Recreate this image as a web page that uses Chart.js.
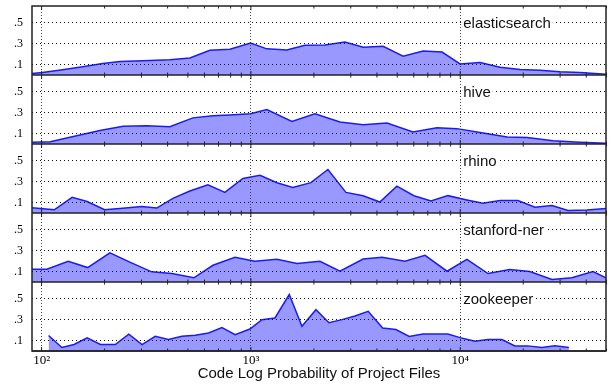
<!DOCTYPE html>
<html>
<head>
<meta charset="utf-8">
<script src="https://cdn.jsdelivr.net/npm/chart.js@4.4.0/dist/chart.umd.min.js"></script>
<style>
  html, body { margin: 0; padding: 0; background: #fff; }
  #wrap { width: 611px; height: 386px; }
</style>
</head>
<body>
<div id="wrap"><canvas id="chart" width="611" height="386"></canvas></div>
<script>
// Panel names, top to bottom.
const panelNames = ['elasticsearch', 'hive', 'rhino', 'stanford-ner', 'zookeeper'];

// Tick values.
const xTickValues = [100, 1000, 10000];
const yTickValues = [0.1, 0.3, 0.5];

// Per-project density curves (x = code log probability, y = fraction).
const esX = [90, 101, 126, 157, 196, 237, 329, 410, 511, 637, 794, 997, 1191, 1485, 1811, 2259, 2813,
  3436, 4280, 5336, 6650, 8190, 9980, 12440, 15500, 19300, 24050, 29970, 37350, 49700];
const esY = [0.015, 0.024, 0.05, 0.08, 0.11, 0.13, 0.138, 0.147, 0.163, 0.236, 0.246, 0.306, 0.25, 0.24, 0.285, 0.287, 0.316,
  0.265, 0.275, 0.18, 0.23, 0.22, 0.106, 0.12, 0.075, 0.052, 0.046, 0.03, 0.024, 0.008];

const hiveX = [90, 110, 147, 190, 245, 318, 410, 528, 658, 794, 997, 1191, 1570, 2023, 2663, 3436,
  4470, 5945, 7740, 9640, 12440, 16750, 20870, 27750, 37350, 49700];
const hiveY = [0.016, 0.022, 0.078, 0.13, 0.17, 0.175, 0.165, 0.25, 0.27, 0.278, 0.29, 0.33, 0.215, 0.29, 0.21, 0.185,
  0.2, 0.115, 0.155, 0.147, 0.11, 0.066, 0.062, 0.03, 0.016, 0.006];

const rhinoX = [90, 115, 140, 165, 200, 244, 301, 355, 424, 511, 623, 751, 916, 1105, 1331, 1585, 1935, 2333,
  2844, 3436, 4130, 4980, 6010, 7250, 8730, 10760, 12830, 15500, 18880, 22760, 27430, 32720, 40340, 49700];
const rhinoY = [0.05, 0.031, 0.15, 0.11, 0.031, 0.045, 0.0625, 0.047, 0.14, 0.21, 0.27, 0.197, 0.33, 0.36, 0.29, 0.245, 0.29, 0.416,
  0.197, 0.165, 0.105, 0.257, 0.165, 0.114, 0.166, 0.125, 0.094, 0.12, 0.12, 0.056, 0.072, 0.025, 0.028, 0.044];

const nerX = [90, 106, 134, 166, 212, 264, 336, 419, 534, 659, 839, 1045, 1331, 1659, 2137, 2663, 3436,
  4230, 5450, 6790, 8650, 10760, 13570, 17220, 21480, 27430, 34140, 43050, 49700];
const nerY = [0.122, 0.122, 0.198, 0.138, 0.278, 0.19, 0.097, 0.081, 0.04, 0.16, 0.236, 0.198, 0.217, 0.176, 0.198, 0.103, 0.22,
  0.236, 0.198, 0.255, 0.103, 0.217, 0.081, 0.119, 0.1, 0.024, 0.04, 0.1, 0.04];

const zkX = [108, 125, 143, 165, 191, 225, 261, 302, 349, 404, 468, 542, 628, 727, 841, 989, 1129, 1303, 1525,
  1753, 2045, 2360, 2723, 3142, 3634, 4258, 4929, 5706, 6632, 7740, 8730, 9980, 11760, 13560, 15810,
  18240, 21030, 24550, 28330, 33040];
const zkY = [0.148, 0.033, 0.062, 0.125, 0.062, 0.062, 0.16, 0.062, 0.14, 0.11, 0.14, 0.15, 0.173, 0.224, 0.157, 0.21, 0.30, 0.316, 0.54,
  0.236, 0.395, 0.27, 0.30, 0.335, 0.38, 0.22, 0.205, 0.14, 0.163, 0.163, 0.163, 0.128, 0.094, 0.11, 0.11,
  0.049, 0.049, 0.033, 0.049, 0.033];

const series = [[esX, esY], [hiveX, hiveY], [rhinoX, rhinoY], [nerX, nerY], [zkX, zkY]];

// minor tick marks: 2..9 x each decade
const minorTicks = [];
[100, 1000, 10000].forEach(d => { for (let k = 2; k <= 9; k++) minorTicks.push(k * d); });

const sup = { '2': '\u00b2', '3': '\u00b3', '4': '\u2074' };
const serif = '"Liberation Serif", "DejaVu Serif", serif';

const datasets = series.map(([xs, ys], i) => ({
  label: panelNames[i],
  data: xs.map((x, j) => ({ x: x, y: ys[j] })),
  yAxisID: 'y' + i,
  fill: 'origin',
  backgroundColor: 'rgb(152,152,255)',
  borderColor: '#1c1cf0',
  borderWidth: 1.5,
  pointRadius: 0,
  tension: 0
}));

const scales = {
  x: {
    type: 'logarithmic',
    position: 'bottom',
    min: 90,
    max: 49700,
    afterBuildTicks: s => { s.ticks = xTickValues.map(v => ({ value: v })); },
    afterFit: s => { s.height = 35; s.paddingLeft = 0; s.paddingRight = 0; },
    grid: { color: '#444', lineWidth: 1, drawTicks: false, z: 1 },
    border: { display: false, dash: [1, 2] },
    ticks: {
      autoSkip: false, maxRotation: 0, padding: 2, color: '#000',
      font: { family: serif, size: 13 },
      callback: v => '10' + sup[String(Math.round(Math.log10(v)))]
    },
    title: {
      display: true,
      text: 'Code Log Probability of Project Files',
      color: '#111',
      font: { family: '"Liberation Sans", Arial, sans-serif', size: 15 },
      padding: { top: 0, bottom: 3 }
    }
  }
};
// stacked axes are laid out bottom-up, so add the lowest panel first
for (let i = panelNames.length - 1; i >= 0; i--) {
  scales['y' + i] = {
    type: 'linear',
    position: 'left',
    stack: 'panels',
    stackWeight: 1,
    offset: false,
    min: 0,
    max: 0.66,
    afterBuildTicks: s => { s.ticks = yTickValues.map(v => ({ value: v })); },
    afterFit: s => { s.width = 32; s.paddingTop = 0; s.paddingBottom = 0; },
    grid: { color: '#111', lineWidth: 1, drawTicks: false, z: 1 },
    border: { display: false, dash: [1, 3] },
    ticks: {
      padding: 9, color: '#000',
      font: { family: serif, size: 12 },
      callback: v => '.' + Math.round(v * 10)
    }
  };
}

// Frame, panel baselines, inward tick marks and panel labels.
const framePlugin = {
  id: 'frame',
  afterDraw(chart) {
    const { ctx, chartArea: a, scales: sc } = chart;
    const xs = sc.x;
    ctx.save();
    ctx.strokeStyle = '#222';
    panelNames.forEach((name, i) => {
      const ys = sc['y' + i];
      const y0 = ys.getPixelForValue(0);
      const yTop = ys.top;
      ctx.lineWidth = 1;
      ctx.beginPath();
      minorTicks.concat(xTickValues).forEach(v => {
        const px = xs.getPixelForValue(v);
        const len = xTickValues.includes(v) ? 4 : 2.5;
        ctx.moveTo(px, y0); ctx.lineTo(px, y0 - len);
        ctx.moveTo(px, yTop); ctx.lineTo(px, yTop + len);
      });
      ctx.stroke();
      ctx.lineWidth = 1.5;
      ctx.beginPath();
      ctx.moveTo(a.left, y0); ctx.lineTo(a.right, y0);
      ctx.stroke();

      ctx.font = '15px "Liberation Sans", Arial, sans-serif';
      const lx = xs.getPixelForValue(10000) + 2;
      const ly = ys.getPixelForValue(0.5);
      const w = ctx.measureText(name).width;
      ctx.fillStyle = '#fff';
      ctx.fillRect(lx, ly - 7, w + 3, 14);
      ctx.fillStyle = '#111';
      ctx.textBaseline = 'middle';
      ctx.fillText(name, lx + 1, ly + 1);
    });
    ctx.lineWidth = 1.5;
    ctx.strokeRect(a.left, a.top, a.right - a.left, a.bottom - a.top);
    ctx.restore();
  }
};

new Chart(document.getElementById('chart'), {
  type: 'line',
  data: { datasets: datasets },
  options: {
    responsive: false,
    animation: false,
    devicePixelRatio: 1,
    layout: { padding: { top: 6, right: 5, left: 0, bottom: 0 } },
    plugins: { legend: { display: false }, tooltip: { enabled: false } },
    scales: scales
  },
  plugins: [framePlugin]
});
</script>
</body>
</html>
